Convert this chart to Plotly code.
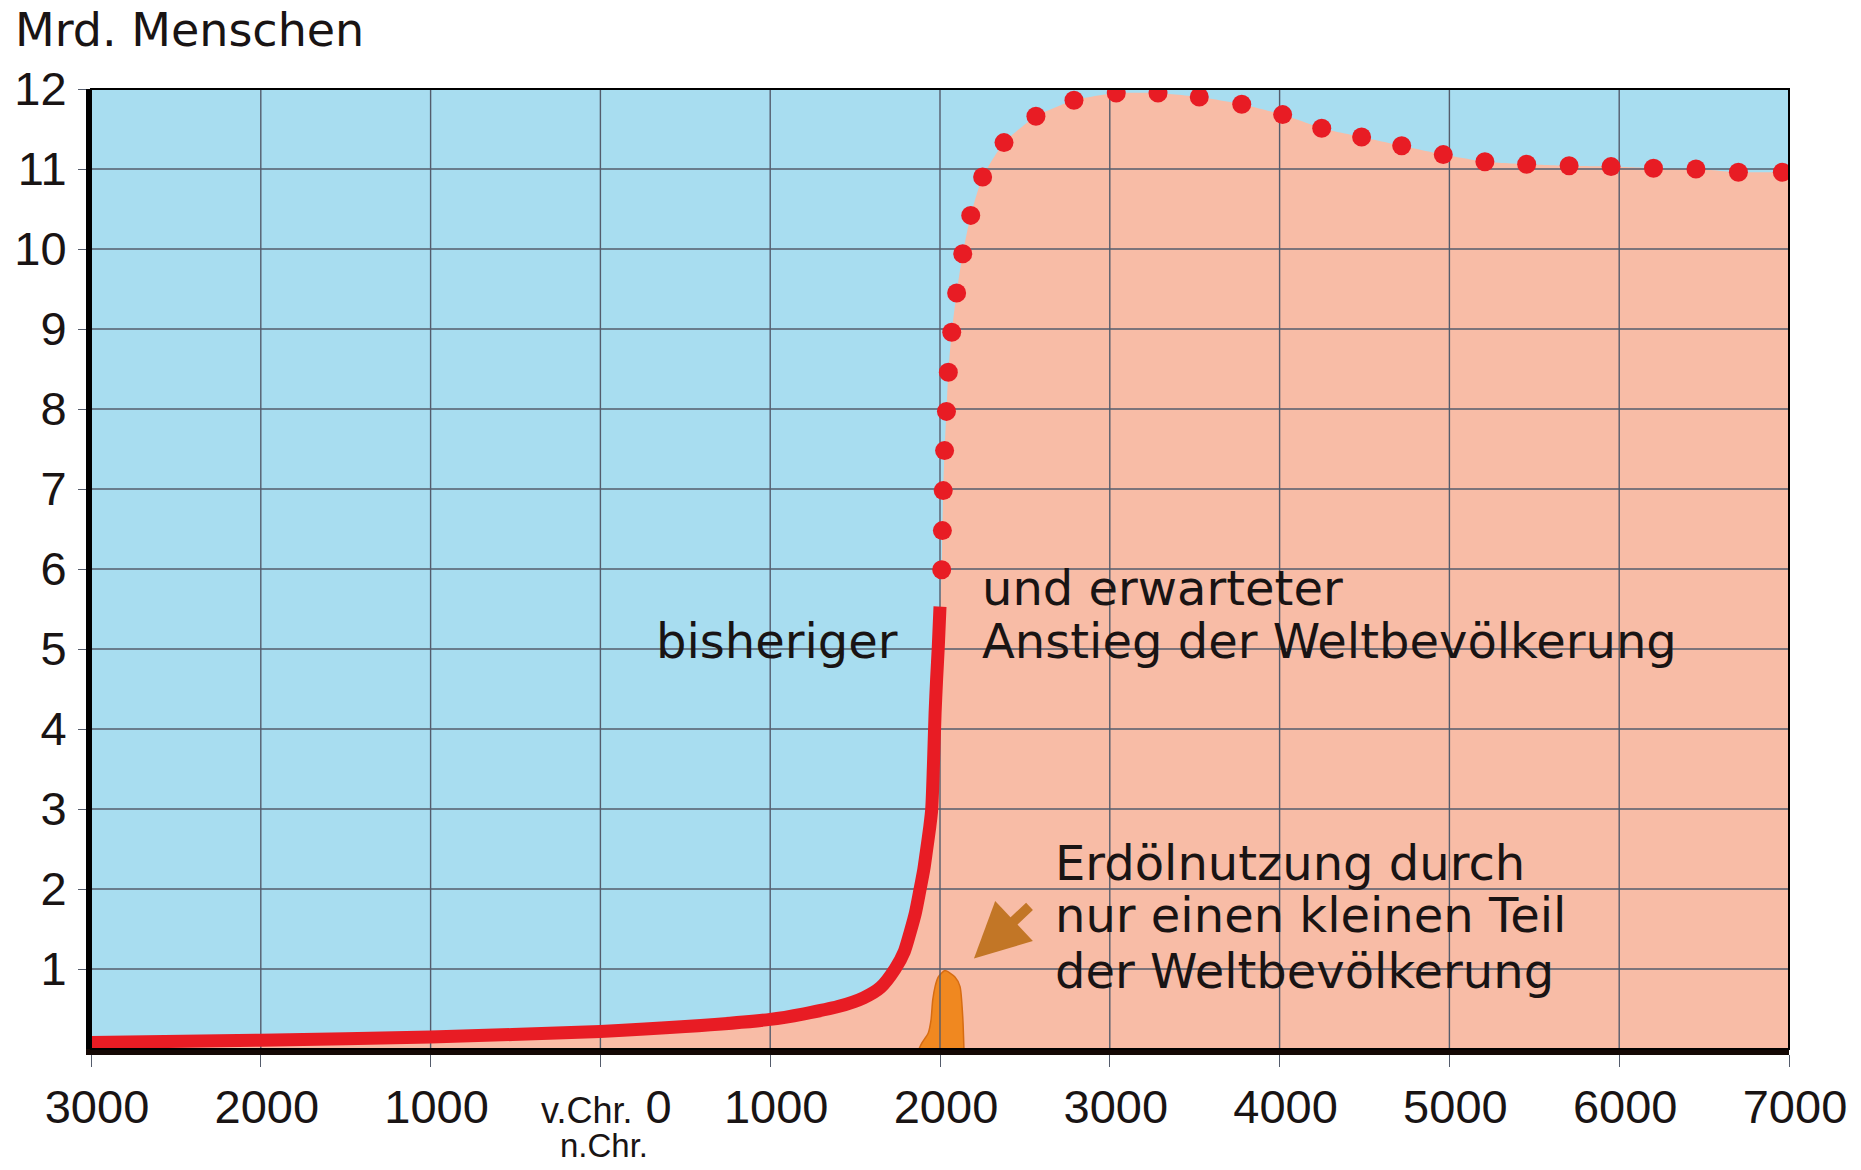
import plotly.graph_objects as go

# ---------------- data ----------------
x_tick_vals = [-3000, -2000, -1000, 0, 1000, 2000, 3000, 4000, 5000, 6000, 7000]
x_tick_text = ["3000", "2000", "1000",
               "<span style='font-size:36px'>v.Chr.</span> 0",
               "1000", "2000", "3000", "4000", "5000", "6000", "7000"]
y_tick_vals = [1, 2, 3, 4, 5, 6, 7, 8, 9, 10, 11, 12]

hist_years = [-3000, -2000, -1000, 0, 500, 1000, 1200, 1400, 1550, 1650, 1735,
              1790, 1823, 1855, 1882, 1905, 1921, 1940, 1951, 1961, 1971, 1980,
              1990, 2000]
hist_vals = [0.08, 0.11, 0.15, 0.22, 0.28, 0.37, 0.44, 0.53, 0.64, 0.77, 1.00,
             1.22, 1.45, 1.70, 1.99, 2.25, 2.49, 2.78, 2.99, 3.53, 4.20, 4.62,
             5.03, 5.53]

proj_years = [2010, 2014, 2019, 2027, 2038, 2049, 2069, 2098, 2134, 2181, 2251,
              2377, 2565, 2789, 3038, 3284, 3527, 3777, 4018, 4248, 4483, 4719,
              4964, 5209, 5455, 5705, 5952, 6202, 6452, 6702, 6961]
proj_vals = [5.99, 6.48, 6.98, 7.48, 7.97, 8.46, 8.96, 9.45, 9.94, 10.42, 10.90,
             11.33, 11.66, 11.86, 11.95, 11.95, 11.90, 11.81, 11.68, 11.51, 11.40,
             11.29, 11.18, 11.09, 11.06, 11.04, 11.03, 11.01, 11.00, 10.96, 10.96]

oil_years = [1876, 1892, 1931, 1947, 1957, 1971, 1990, 2029, 2088, 2118, 2134, 2141]
oil_vals = [0, 0.07, 0.20, 0.36, 0.61, 0.78, 0.90, 0.98, 0.90, 0.78, 0.40, 0]

# ---------------- style ----------------
BLUE = "rgb(168,221,240)"
SALMON = "rgb(248,188,166)"
RED = "rgb(232,28,36)"
GRID = "rgb(84,92,108)"
OIL = "rgb(240,136,32)"
OIL_EDGE = "rgb(214,108,18)"
ARROW = "rgb(194,118,38)"
TXT = "rgb(25,20,20)"
SANS = "DejaVu Sans"
TICKF = "Liberation Sans, Arial, sans-serif"

x_min, x_max = x_tick_vals[0], x_tick_vals[-1]
y_min, y_max = 0, y_tick_vals[-1]

W, H = 1845, 1154   # page body has an 8px margin

fig = go.Figure()

# salmon area below the whole curve (history + projection)
fill_x = hist_years + proj_years + [x_max]
fill_y = hist_vals + proj_vals + [proj_vals[-1]]
fig.add_trace(go.Scatter(x=fill_x, y=fill_y, mode="lines", fill="tozeroy",
                         fillcolor=SALMON,
                         line=dict(width=0, color=SALMON, shape="spline", smoothing=0.5),
                         hoverinfo="skip", showlegend=False))

# oil bump
fig.add_trace(go.Scatter(x=oil_years, y=oil_vals, mode="lines", fill="toself",
                         fillcolor=OIL,
                         line=dict(width=1.5, color=OIL_EDGE, shape="spline", smoothing=0.6),
                         hoverinfo="skip", showlegend=False))

# grid drawn above the fill (built from the tick arrays)
gx, gy = [], []
for xt in x_tick_vals[1:-1]:
    gx += [xt, xt, None]
    gy += [y_min, y_max, None]
for yt in y_tick_vals[:-1]:
    gx += [x_min, x_max, None]
    gy += [yt, yt, None]
fig.add_trace(go.Scatter(x=gx, y=gy, mode="lines", line=dict(color=GRID, width=1.4),
                         hoverinfo="skip", showlegend=False))

# historical population
fig.add_trace(go.Scatter(x=hist_years, y=hist_vals, mode="lines",
                         line=dict(color=RED, width=13, shape="spline", smoothing=0.7),
                         hoverinfo="skip", showlegend=False))

# projection (dots)
fig.add_trace(go.Scatter(x=proj_years, y=proj_vals, mode="markers",
                         marker=dict(color=RED, size=19, line=dict(width=0)),
                         hoverinfo="skip", showlegend=False))

ann = []
txt_font = dict(family=SANS, size=48, color=TXT)
ann.append(dict(x=1764, y=5.1, xref="x", yref="y", text="bisheriger", showarrow=False,
                xanchor="right", yanchor="middle", font=txt_font))
ann.append(dict(x=2236, y=5.76, xref="x", yref="y", text="und erwarteter", showarrow=False,
                xanchor="left", yanchor="middle", font=txt_font))
ann.append(dict(x=2236, y=5.1, xref="x", yref="y", text="Anstieg der Weltbevölkerung",
                showarrow=False, xanchor="left", yanchor="middle", font=txt_font))
ann.append(dict(x=2665, y=2.33, xref="x", yref="y", text="Erdölnutzung durch", showarrow=False,
                xanchor="left", yanchor="middle", font=txt_font))
ann.append(dict(x=2665, y=1.675, xref="x", yref="y", text="nur einen kleinen Teil",
                showarrow=False, xanchor="left", yanchor="middle", font=txt_font))
ann.append(dict(x=2665, y=0.975, xref="x", yref="y", text="der Weltbevölkerung",
                showarrow=False, xanchor="left", yanchor="middle", font=txt_font))
# arrow pointing at the oil bump
ann.append(dict(x=2200, y=1.13, xref="x", yref="y", ax=2536, ay=1.8, axref="x", ayref="y",
                text="", showarrow=True, arrowhead=2, arrowsize=1.1, arrowwidth=10,
                arrowcolor=ARROW))
# "n.Chr." under the 0 tick
ann.append(dict(x=0, y=-0.1, xref="x", yref="paper", text="n.Chr.", showarrow=False,
                xanchor="center", yanchor="middle", xshift=4,
                font=dict(family=TICKF, size=33, color=TXT)))

fig.update_layout(
    width=W, height=H,
    margin=dict(l=83, r=64, t=81, b=113, autoexpand=False),
    paper_bgcolor="white", plot_bgcolor=BLUE,
    showlegend=False,
    title=dict(text="Mrd. Menschen", x=7 / W, xanchor="left", xref="container",
               y=1 - 22 / H, yanchor="middle", yref="container",
               font=dict(family=SANS, size=46, color=TXT)),
    annotations=ann,
    shapes=[dict(type="rect", xref="paper", yref="paper", x0=0, y0=0, x1=1, y1=1,
                 line=dict(color="black", width=2), layer="above")],
)

fig.update_xaxes(range=[x_min, x_max], tickmode="array", tickvals=x_tick_vals,
                 ticktext=x_tick_text, showgrid=False, zeroline=False, automargin=False,
                 showline=True, linecolor="rgb(20,8,4)", linewidth=6,
                 ticks="outside", ticklen=12, tickwidth=1.4, tickcolor=GRID,
                 ticklabelstandoff=0, ticklabelshift=6,
                 tickfont=dict(family=TICKF, size=47, color=TXT), fixedrange=True)
fig.update_yaxes(range=[y_min, y_max], tickmode="array", tickvals=y_tick_vals,
                 showgrid=False, zeroline=False, automargin=False,
                 showline=True, linecolor="black", linewidth=5,
                 ticks="outside", ticklen=8, tickwidth=1.4, tickcolor=GRID,
                 ticklabelstandoff=2,
                 tickfont=dict(family=TICKF, size=47, color=TXT), fixedrange=True)

fig.write_html("out.html")
